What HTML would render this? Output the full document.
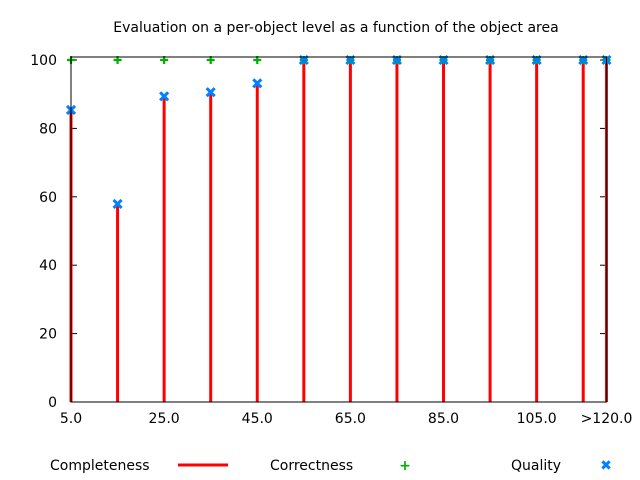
<!DOCTYPE html>
<html><head><meta charset="utf-8"><style>
html,body{margin:0;padding:0;background:#fff;}
svg{display:block;font-family:"DejaVu Sans","Liberation Sans",sans-serif;}
</style></head><body>
<svg id="chart" width="640" height="480" xmlns="http://www.w3.org/2000/svg">
<text x="336" y="32" font-size="14" text-anchor="middle" fill="#000">Evaluation on a per-object level as a function of the object area</text>
<g id="grid"></g>
<g id="marks"></g>
<rect x="71" y="57" width="535.5" height="345" fill="none" stroke="#000" stroke-width="1"/>
<g>
<text x="50" y="470" font-size="14">Completeness</text>
<line x1="178" y1="465" x2="228" y2="465" stroke="#f00" stroke-width="3"/>
<text x="270" y="470" font-size="14">Correctness</text>
<text x="405" y="470" font-size="14" text-anchor="middle" fill="#00b000" font-weight="bold">+</text>
<text x="511" y="470" font-size="14">Quality</text>
<text x="606" y="470" font-size="14" text-anchor="middle" fill="#0080ff" font-weight="bold">✖</text>
</g>
</svg>
<script>
const categories = [5,15,25,35,45,55,65,75,85,95,105,115,120];
const completeness = [85.4,57.9,89.4,90.6,93.2,100,100,100,100,100,100,100,100];
const correctness = [100,100,100,100,100,100,100,100,100,100,100,100,100];
const quality = [85.4,57.9,89.4,90.6,93.2,100,100,100,100,100,100,100,100];
const xTickValues = [5,25,45,65,85,105,120];
const xTickLabels = ["5.0","25.0","45.0","65.0","85.0","105.0",">120.0"];
const yTickValues = [0,20,40,60,80,100];

const NS="http://www.w3.org/2000/svg";
const X=v=>71+(v-5)*4.6565;
const Y=v=>402-v*3.42;
const grid=document.getElementById('grid');
const marks=document.getElementById('marks');
function mk(tag,attrs,parent){const e=document.createElementNS(NS,tag);for(const k in attrs)e.setAttribute(k,attrs[k]);parent.appendChild(e);return e;}

yTickValues.forEach(v=>{
  const t=mk('text',{x:57,y:Y(v)+5,'font-size':14,'text-anchor':'end'},grid);
  t.textContent=v;
  
  
  const l=mk('line',{x1:71,x2:77,y1:Y(v),y2:Y(v),stroke:'#000'},grid);
  
  
  const r=mk('line',{x1:600,x2:606,y1:Y(v),y2:Y(v),stroke:'#000'},grid);
  
  
});
xTickValues.forEach((v,i)=>{
  const t=mk('text',{x:X(v),y:423,'font-size':14,'text-anchor':'middle'},grid);
  t.textContent=xTickLabels[i];
  
  
});
categories.forEach((c,i)=>{
  const b=mk('line',{x1:X(c),x2:X(c),y1:Y(0),y2:Y(completeness[i]),stroke:'#f00','stroke-width':3},marks);
  
  
});
categories.forEach((c,i)=>{
  const x=X(c),y=Y(correctness[i]);
  const p=mk('path',{d:`M${x-4} ${y}H${x+4}M${x} ${y-4}V${y+4}`,stroke:'#00b000','stroke-width':2.2},marks);
  
  
});
categories.forEach((c,i)=>{
  const x=X(c),y=Y(quality[i]);
  const p=mk('path',{d:`M${x-4} ${y-4}L${x+4} ${y+4}M${x+4} ${y-4}L${x-4} ${y+4}`,stroke:'#0080ff','stroke-width':3},marks);
  
  
});
</script>
</body></html>
